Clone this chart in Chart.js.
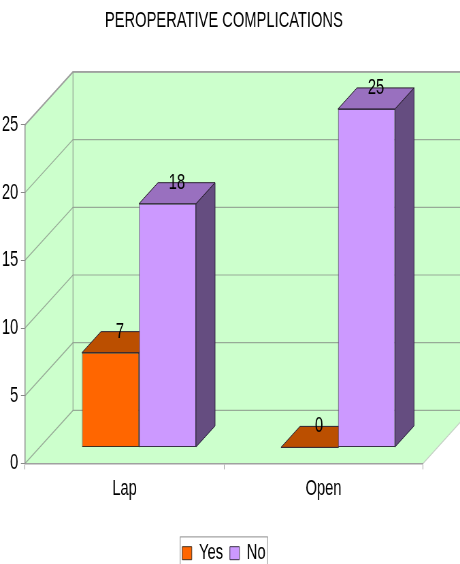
<!DOCTYPE html>
<html>
<head>
<meta charset="utf-8">
<style>
  html, body { margin: 0; padding: 0; background: #fff; overflow: hidden; width: 460px; height: 564px; }
  #wrap { width: 460px; height: 564px; overflow: hidden; }
  #chart { display: block; transform-origin: 0 0; transform: scaleX(0.6805); }
</style>
<script src="https://cdn.jsdelivr.net/npm/chart.js@4/dist/chart.umd.js"></script>
</head>
<body>
<div id="wrap"><canvas id="chart" width="676" height="564"></canvas></div>
<script>
const categories = ['Lap', 'Open'];
const yesValues = [7, 0];
const noValues = [18, 25];
const yTicks = [0, 5, 10, 15, 20, 25];

const SX = 0.6805;               // horizontal squeeze applied to the canvas
const px = v => v / SX;          // on-screen horizontal pixels to canvas pixels
const WALL = { dx: px(48), dy: -53 };
const BAR_DEPTH = { dx: px(19), dy: -21 };
const BAR_SHIFT = { dx: px(14.5), dy: -16 };
const FONT = { family: '"Liberation Sans", Arial, sans-serif', size: 21.6 };

function poly(ctx, pts, fill, stroke, width) {
  ctx.beginPath();
  pts.forEach((p, i) => i ? ctx.lineTo(p[0], p[1]) : ctx.moveTo(p[0], p[1]));
  ctx.closePath();
  if (fill) { ctx.fillStyle = fill; ctx.fill(); }
  if (stroke) { ctx.strokeStyle = stroke; ctx.lineWidth = width || 1; ctx.stroke(); }
}

// Green box behind the bars: left wall, back wall and floor with gridlines.
const roomPlugin = {
  id: 'room',
  beforeDraw(chart) {
    const { ctx, scales: { x, y } } = chart;
    const L = x.left, R = x.right, T = y.top, B = y.bottom;
    const { dx, dy } = WALL;
    ctx.save();
    poly(ctx, [[L + dx, T + dy], [R + dx, T + dy], [R + dx, B + dy], [L + dx, B + dy]], '#ccffcc');
    poly(ctx, [[L, T], [L + dx, T + dy], [L + dx, B + dy], [L, B]], '#ccffcc');
    poly(ctx, [[L, B], [L + dx, B + dy], [R + dx, B + dy], [R, B]], '#ccffcc');

    ctx.strokeStyle = '#97ab97';
    ctx.lineWidth = 1.2;
    yTicks.forEach(v => {
      const py = y.getPixelForValue(v);
      ctx.beginPath();
      ctx.moveTo(L, py);
      ctx.lineTo(L + dx, py + dy);
      ctx.lineTo(R + dx, py + dy);
      ctx.stroke();
    });
    ctx.strokeStyle = '#a0a0a0';
    ctx.lineWidth = 1.6;
    ctx.beginPath();
    ctx.moveTo(L, T);
    ctx.lineTo(L + dx, T + dy);
    ctx.lineTo(R + dx, T + dy);
    ctx.stroke();
    ctx.strokeStyle = '#8f9f8f';
    ctx.lineWidth = 1.2;
    ctx.beginPath();
    ctx.moveTo(L + dx, T + dy);
    ctx.lineTo(L + dx, B + dy);
    ctx.stroke();
    ctx.strokeStyle = '#c4cfc4';
    ctx.beginPath();
    ctx.moveTo(R, B);
    ctx.lineTo(R + dx, B + dy);
    ctx.stroke();

    // Frame around the legend entries
    const boxes = chart.legend.legendHitBoxes;
    const left = Math.min(...boxes.map(b => b.left)) - 3;
    const right = Math.max(...boxes.map(b => b.left + b.width)) + 3;
    const top = Math.min(...boxes.map(b => b.top)) - 6;
    ctx.strokeStyle = '#8c8c8c';
    ctx.lineWidth = 1;
    ctx.strokeRect(left, top + 0.5, right - left, chart.height);
    ctx.restore();
  }
};

// Depth faces of each bar, then the bars moved back onto the floor.
const depthPlugin = {
  id: 'depth',
  beforeDatasetsDraw(chart) {
    const { ctx } = chart;
    ctx.save();
    ctx.translate(BAR_SHIFT.dx, BAR_SHIFT.dy);
    const { dx, dy } = BAR_DEPTH;
    chart.getSortedVisibleDatasetMetas().forEach(meta => {
      const ds = chart.data.datasets[meta.index];
      meta.data.forEach(bar => {
        const l = bar.x - bar.width / 2, r = bar.x + bar.width / 2;
        poly(ctx, [[r, bar.y], [r + dx, bar.y + dy], [r + dx, bar.base + dy], [r, bar.base]],
             ds.sideColor, '#2e2440', 1);
        poly(ctx, [[l, bar.y], [l + dx, bar.y + dy], [r + dx, bar.y + dy], [r, bar.y]],
             ds.topColor, '#2b2030', 1);
      });
    });
  },
  afterDatasetsDraw(chart) {
    const { ctx } = chart;
    const { dx, dy } = BAR_DEPTH;
    ctx.fillStyle = '#000';
    ctx.font = `${FONT.size}px ${FONT.family}`;
    ctx.textAlign = 'center';
    ctx.textBaseline = 'middle';
    chart.getSortedVisibleDatasetMetas().forEach(meta => {
      const values = chart.data.datasets[meta.index].data;
      meta.data.forEach((bar, i) => {
        ctx.fillText(String(values[i]), bar.x + dx / 2, bar.y + dy);
      });
    });
    ctx.restore();
  }
};

new Chart(document.getElementById('chart'), {
  type: 'bar',
  data: {
    labels: categories,
    datasets: [
      { label: 'Yes', data: yesValues, backgroundColor: '#ff6600', sideColor: '#8f3f00', topColor: '#bb4f00',
        borderColor: '#40301f', borderWidth: 1, borderSkipped: false, order: 0 },
      { label: 'No', data: noValues, backgroundColor: '#cc99ff', sideColor: '#654d80', topColor: '#9970bf',
        borderColor: '#3a3048', borderWidth: 1, borderSkipped: false, order: 0 }
    ]
  },
  options: {
    responsive: false,
    animation: false,
    devicePixelRatio: 1,
    layout: { padding: { right: 18, bottom: -10 } },
    datasets: { bar: { categoryPercentage: 0.573, barPercentage: 1, clip: false } },
    plugins: {
      title: {
        display: true,
        text: 'PEROPERATIVE COMPLICATIONS',
        color: '#000',
        font: { ...FONT, weight: 'normal' },
        padding: { top: 8, bottom: 91 }
      },
      legend: {
        position: 'bottom',
        labels: {
          color: '#000',
          font: FONT,
          boxWidth: 14,
          boxHeight: 13,
          padding: 10
        }
      },
      tooltip: { enabled: false }
    },
    scales: {
      x: {
        offset: true,
        grid: { offset: true, drawOnChartArea: false, drawTicks: true, tickLength: 6, color: '#999' },
        border: { color: '#a0a0a0', width: 1.5 },
        ticks: { color: '#000', font: FONT, padding: 7, maxRotation: 0 },
        afterFit(s) { s.height = 69; }
      },
      y: {
        min: 0,
        max: 25,
        afterBuildTicks(s) { s.ticks = yTicks.map(value => ({ value })); },
        grid: { drawOnChartArea: false, tickLength: 6, color: '#888' },
        border: { color: '#909090', width: 1.5 },
        ticks: { color: '#000', font: FONT, padding: 4 },
        afterFit(s) { s.width = px(25); }
      },
      // Empty axis that reserves the room taken by the receding floor on the right
      spacer: {
        type: 'linear',
        position: 'right',
        grid: { display: false },
        border: { display: false },
        ticks: { display: false },
        afterFit(s) { s.width = 36.4; }
      }
    }
  },
  plugins: [roomPlugin, depthPlugin]
});
</script>
</body>
</html>
